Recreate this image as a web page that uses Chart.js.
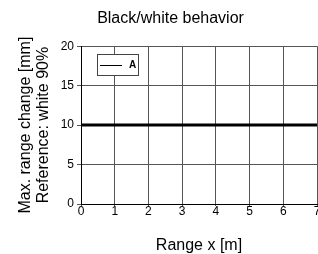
<!DOCTYPE html>
<html>
<head>
<meta charset="utf-8">
<script src="https://cdn.jsdelivr.net/npm/chart.js@4.4.0/dist/chart.umd.min.js"></script>
<style>
  html, body { margin: 0; padding: 0; background: #fff; }
  #wrap { width: 318px; height: 254px; }
</style>
</head>
<body>
<div id="wrap"><canvas id="chart" width="318" height="254"></canvas></div>
<script>
// Chart data
const rangeX = [0, 1, 2, 3, 4, 5, 6, 7];
const seriesA = [10, 10, 10, 10, 10, 10, 10, 10];
const seriesLabel = 'A';
const xTicks = [0, 1, 2, 3, 4, 5, 6, 7];
const yTicks = [0, 5, 10, 15, 20];

const FONT = "'Liberation Sans', Arial, sans-serif";

// legend drawn as a framed box inside the plot
const boxLegend = {
    id: 'boxLegend',
    afterDraw(chart) {
        const ctx = chart.ctx;
        const ds = chart.data.datasets[0];
        const x = Math.round(chart.chartArea.left) + 16, y = Math.round(chart.chartArea.top) + 8;
        const w = 41, h = 21;
        ctx.save();
        ctx.fillStyle = '#fff';
        ctx.fillRect(x, y, w, h);
        ctx.strokeStyle = '#444';
        ctx.lineWidth = 1;
        ctx.strokeRect(x + 0.5, y + 0.5, w, h);
        ctx.beginPath();
        ctx.moveTo(x + 3, y + 11.5);
        ctx.lineTo(x + 25, y + 11.5);
        ctx.strokeStyle = ds.borderColor;
        ctx.lineWidth = 1;
        ctx.stroke();
        ctx.fillStyle = '#000';
        ctx.font = 'bold 10px ' + FONT;
        ctx.textBaseline = 'middle';
        ctx.fillText(ds.label, x + 32, y + 11);
        ctx.restore();
    }
};

function initChart() {
    const ctx = document.getElementById('chart').getContext('2d');
    new Chart(ctx, {
        type: 'line',
        data: {
            datasets: [{
                label: seriesLabel,
                data: rangeX.map((x, i) => ({x: x, y: seriesA[i]})),
                borderColor: '#000',
                borderWidth: 3,
                pointRadius: 0,
                fill: false
            }]
        },
        options: {
            responsive: false,
            animation: false,
            layout: {padding: {left: 24, right: 1, top: 0, bottom: 0}},
            plugins: {
                legend: {display: false},
                tooltip: {enabled: false},
                title: {
                    display: true,
                    text: 'Black/white behavior',
                    color: '#000',
                    font: {family: FONT, size: 16, weight: 'normal', lineHeight: 1.2},
                    padding: {top: 9, bottom: 18}
                }
            },
            scales: {
                x: {
                    type: 'linear',
                    min: 0, max: 7,
                    afterBuildTicks: s => { s.ticks = xTicks.map(v => ({value: v})); },
                    afterFit: s => { s.height = 50; s.paddingLeft = 0; s.paddingRight = 0; },
                    border: {color: '#000', width: 1},
                    grid: {color: '#555', lineWidth: 1, tickLength: 2},
                    ticks: {color: '#000', font: {family: FONT, size: 12}, padding: -2, maxRotation: 0},
                    title: {display: true, text: 'Range x [m]', color: '#000',
                        font: {family: FONT, size: 16, lineHeight: 1.0}, padding: {top: 0, bottom: 0}}
                },
                y: {
                    min: 0, max: 20,
                    afterBuildTicks: s => { s.ticks = yTicks.map(v => ({value: v})); },
                    afterFit: s => { s.width = 57; s.paddingTop = 0; s.paddingBottom = 0; },
                    border: {color: '#000', width: 1},
                    grid: {color: '#555', lineWidth: 1, tickLength: 4},
                    ticks: {color: '#000', font: {family: FONT, size: 12}, padding: 3},
                    title: {display: true, text: ['Max. range change [mm]', 'Reference: white 90%'],
                        color: '#000', font: {family: FONT, size: 16, lineHeight: 1.1},
                        padding: {top: -7, bottom: 0}}
                }
            }
        },
        plugins: [boxLegend]
    });
}

document.addEventListener('DOMContentLoaded', initChart);
</script>
</body>
</html>
